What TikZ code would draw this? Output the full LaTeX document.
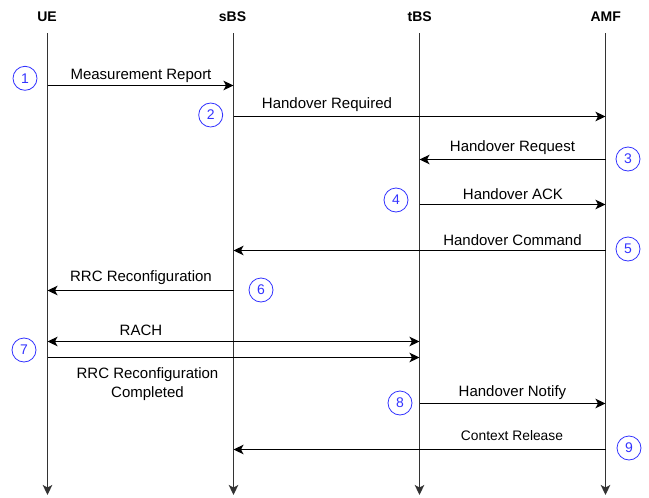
\documentclass[tikz,border=0pt]{standalone}
\usepackage{fontspec}
\setmainfont{Liberation Sans}
\usetikzlibrary{arrows.meta}
\tikzset{
  tip/.tip={Stealth[length=10pt,width=9.5pt,inset=2.5pt]},
  head/.style={font=\fontsize{14}{16}\selectfont\bfseries, anchor=base},
  life/.style={line width=1.2pt, draw=black!80, -tip},
  msg/.style={line width=1.2pt, -tip},
  msgb/.style={line width=1.2pt, tip-tip},
  lbl/.style={font=\fontsize{15}{19}\selectfont, align=center, anchor=base, inner sep=0pt},
  slbl/.style={font=\fontsize{13.8}{17}\selectfont, align=center, anchor=base, inner sep=0pt},
  num/.style={circle, draw=blue!80!white, text=blue!80!white, line width=0.8pt, minimum size=24pt, inner sep=0pt, font=\fontsize{14}{16}\selectfont}
}
\begin{document}
\begin{tikzpicture}[x=1pt,y=-1pt]
\useasboundingbox (0,0) rectangle (649,498);
% headers
\node[head] (hUE) at (47,21.7) {UE};
\node[head] (hsBS) at (232.5,21.7) {sBS};
\node[head] (htBS) at (419.7,21.7) {tBS};
\node[head] (hAMF) at (605.7,21.7) {AMF};
% lifelines
\coordinate (UE) at (47.5,33);  \coordinate (UEb) at (47.5,495);
\coordinate (sBS) at (233.5,33); \coordinate (sBSb) at (233.5,495);
\coordinate (tBS) at (419.5,33); \coordinate (tBSb) at (419.5,495);
\coordinate (AMF) at (605.5,33); \coordinate (AMFb) at (605.5,495);
\draw[life] (UE) -- (UEb);
\draw[life] (sBS) -- (sBSb);
\draw[life] (tBS) -- (tBSb);
\draw[life] (AMF) -- (AMFb);
% message levels
\coordinate (m1) at (0,85.5);
\coordinate (m2) at (0,116.5);
\coordinate (m3) at (0,159.5);
\coordinate (m4) at (0,204.5);
\coordinate (m5) at (0,250.5);
\coordinate (m6) at (0,290.5);
\coordinate (m7a) at (0,341.5);
\coordinate (m7b) at (0,357.5);
\coordinate (m8) at (0,403.5);
\coordinate (m9) at (0,449.5);
% messages
\draw[msg] (UE |- m1) -- (sBS |- m1);
\node[lbl] (l1) at (141,79) {Measurement Report};
\draw[msg] (sBS |- m2) -- (AMF |- m2);
\node[lbl] (l2) at (327,108.3) {Handover Required};
\draw[msg] (AMF |- m3) -- (tBS |- m3);
\node[lbl] (l3) at (512.5,151.7) {Handover Request};
\draw[msg] (tBS |- m4) -- (AMF |- m4);
\node[lbl] (l4) at (513,199) {Handover ACK};
\draw[msg] (AMF |- m5) -- (sBS |- m5);
\node[lbl] (l5) at (512.5,245) {Handover Command};
\draw[msg] (sBS |- m6) -- (UE |- m6);
\node[lbl] (l6) at (141,281.7) {RRC Reconfiguration};
\draw[msgb] (UE |- m7a) -- (tBS |- m7a);
\node[lbl] (l7a) at (141,335) {RACH};
\draw[msg] (UE |- m7b) -- (tBS |- m7b);
\node[lbl] (l7b) at (147.5,397) {RRC Reconfiguration\\Completed};
\draw[msg] (tBS |- m8) -- (AMF |- m8);
\node[lbl] (l8) at (512.5,396.7) {Handover Notify};
\draw[msg] (AMF |- m9) -- (sBS |- m9);
\node[slbl] (l9) at (512,440) {Context Release};
% step numbers
\node[num] (n1) at (25,78.3) {1};
\node[num] (n2) at (210.7,115) {2};
\node[num] (n3) at (628,159) {3};
\node[num] (n4) at (396,200) {4};
\node[num] (n5) at (628,249) {5};
\node[num] (n6) at (261,290) {6};
\node[num] (n7) at (24,350) {7};
\node[num] (n8) at (400,403) {8};
\node[num] (n9) at (629,448) {9};
\end{tikzpicture}
\end{document}
